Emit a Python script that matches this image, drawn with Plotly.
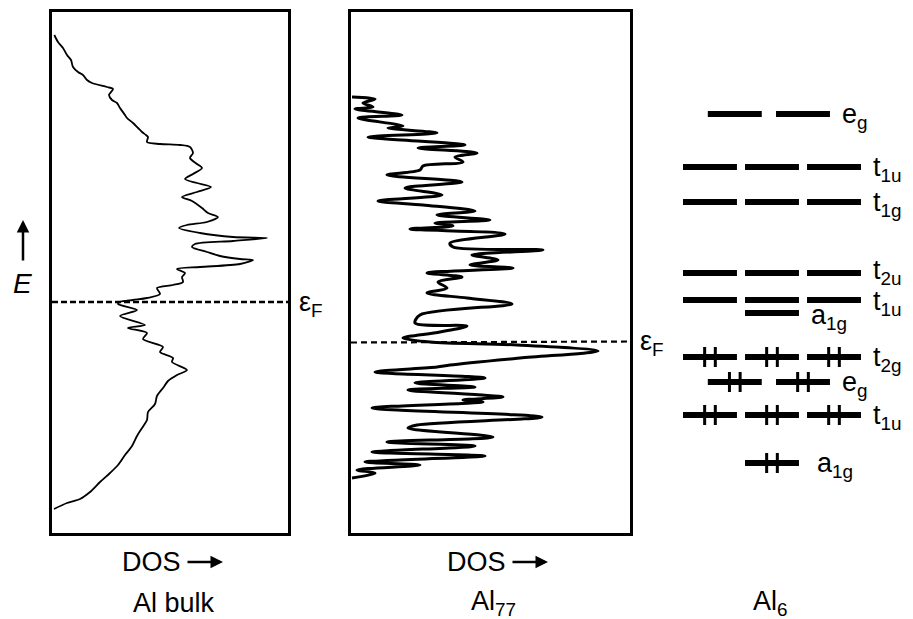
import plotly.graph_objects as go

W, H = 913, 619

# Al bulk density of states (arb. units) vs energy relative to E_F (arb. units)
bulk_dos = [0.23, 0.6, 1.1, 1.5, 1.9, 2.1, 2.6, 3.1, 3.5, 4.0, 5.5, 6.1, 5.7, 6.0, 6.5,
            6.8, 7.3, 7.5, 8.1, 8.6, 9.0, 9.4, 9.6, 9.5, 10.8, 12.8, 13.8, 14.1, 13.8,
            14.5, 15.0, 14.1, 13.3, 14.5, 15.9, 14.5, 13.0, 14.0, 15.0, 15.6, 16.6,
            15.5, 13.5, 12.7, 14.8, 18.1, 21.5, 18.1, 14.3, 14.0, 15.5, 16.8, 18.8,
            20.1, 18.8, 14.8, 12.5, 13.3, 13.0, 13.1, 12.1, 10.5, 10.8, 9.5, 8.1, 6.8,
            6.6, 8.5, 6.8, 9.3, 7.6, 9.5, 9.1, 11.1, 10.8, 12.1, 12.0, 13.5, 12.5,
            11.6, 11.1, 10.5, 10.3, 9.6, 9.5, 9.0, 8.5, 8.0, 7.3, 6.6, 5.8, 4.8, 3.8,
            2.8, 1.5, 0.2]
bulk_energy = [26.7, 26.0, 25.4, 24.7, 24.2, 23.5, 23.0, 22.7, 22.2, 21.9, 21.5, 21.3,
               20.7, 20.2, 19.9, 19.4, 18.7, 18.4, 17.9, 17.4, 17.0, 16.7, 16.5, 16.0,
               15.8, 15.7, 15.5, 14.9, 14.4, 13.8, 13.4, 12.8, 12.3, 11.9, 11.5, 11.0,
               10.5, 10.1, 9.4, 8.9, 8.5, 8.0, 7.7, 7.4, 6.9, 6.5, 6.4, 6.1, 5.8, 5.5,
               5.0, 4.6, 4.3, 4.2, 3.8, 3.5, 3.3, 2.9, 2.5, 2.0, 1.7, 1.4, 0.8, 0.4, 0.2,
               0.0, -0.2, -0.8, -1.4, -2.3, -2.6, -3.1, -3.7, -4.5, -5.0, -5.6, -6.0,
               -6.8, -7.3, -7.9, -8.6, -9.4, -10.2, -11.0, -11.8, -12.6, -13.4, -14.4,
               -15.3, -16.3, -17.1, -18.0, -19.0, -19.7, -20.1, -20.7]

# Al77 cluster density of states
al77_dos = [0.1, 2.4, 1.2, 2.2, 0.4, 5.1, 0.7, 5.2, 3.7, 8.6, 1.7, 11.4, 6.7, 12.6,
            10.4, 11.2, 7.2, 6.9, 3.6, 11.1, 5.4, 9.1, 2.7, 7.2, 12.4, 8.6, 13.9, 8.4,
            10.2, 5.9, 15.4, 9.9, 10.2, 19.2, 12.1, 14.7, 11.9, 16.2, 7.6, 11.1, 8.7,
            9.6, 7.6, 11.6, 16.1, 6.9, 6.4, 11.6, 8.9, 5.2, 7.9, 16.6, 24.7, 16.9, 9.9,
            8.6, 2.4, 13.4, 6.4, 12.4, 5.7, 15.2, 11.2, 13.2, 2.1, 19.1, 6.6, 5.7, 14.2,
            3.6, 12.4, 2.1, 13.4, 1.4, 6.9, 0.6, 2.4, 0.1]
al77_energy = [24.6, 24.4, 24.0, 23.6, 23.4, 22.8, 22.5, 21.7, 21.5, 21.0, 20.6, 19.8,
               19.5, 19.0, 18.6, 18.1, 17.7, 17.3, 16.8, 16.1, 15.5, 14.8, 14.2, 13.8,
               13.2, 12.8, 12.3, 12.0, 11.7, 11.4, 10.9, 10.0, 9.6, 9.3, 8.8, 8.3, 7.8,
               7.5, 7.0, 6.6, 6.1, 5.5, 5.0, 4.5, 3.9, 2.8, 2.0, 1.7, 1.1, 0.5, 0.1, -0.2,
               -0.8, -1.5, -2.2, -2.4, -2.9, -3.5, -4.0, -4.4, -4.7, -5.4, -5.7, -5.9,
               -6.5, -7.4, -8.2, -8.5, -9.4, -9.9, -10.3, -10.9, -11.3, -11.9, -12.2,
               -12.7, -13.0, -13.5]

# Al6 molecular-orbital levels
al6_labels = ["e<sub>g</sub>", "t<sub>1u</sub>", "t<sub>1g</sub>", "t<sub>2u</sub>",
              "t<sub>1u</sub>", "a<sub>1g</sub>", "t<sub>2g</sub>", "e<sub>g</sub>",
              "t<sub>1u</sub>", "a<sub>1g</sub>"]
al6_energy = [22.9, 17.6, 14.1, 7.0, 4.3, 3.0, -1.4, -3.9, -7.2, -12.0]
al6_degeneracy = [2, 3, 3, 3, 3, 1, 3, 2, 3, 1]
al6_occupied = [False, False, False, False, False, False, True, True, True, True]

panel_titles = ["Al bulk", "Al<sub>77</sub>", "Al<sub>6</sub>"]
fermi_label = "ε<sub>F</sub>"

FONT = "Liberation Sans, Arial, Helvetica, sans-serif"


def fx(p):
    return p / W


def fy(p):
    return 1 - p / H


fig = go.Figure()

# DOS curves
fig.add_trace(go.Scatter(x=bulk_dos, y=bulk_energy, xaxis="x", yaxis="y", mode="lines",
                         line=dict(color="black", width=1.8, shape="spline", smoothing=0.8)))
fig.add_trace(go.Scatter(x=al77_dos, y=al77_energy, xaxis="x2", yaxis="y2", mode="lines",
                         line=dict(color="black", width=3, shape="spline", smoothing=0.9)))

# Fermi levels
BULK_XR = [0, 23.6]
AL77_XR = [0, 27.9]
fig.add_trace(go.Scatter(x=BULK_XR, y=[0, 0], xaxis="x", yaxis="y", mode="lines",
                         line=dict(color="black", width=2.6, dash="6px,3px")))
fig.add_trace(go.Scatter(x=AL77_XR, y=[0.05, 0.15], xaxis="x2", yaxis="y2", mode="lines",
                         line=dict(color="black", width=2.2, dash="6px,4px")))

# Al6 levels: one bar per degenerate orbital, electron pairs marked on occupied ones
slots = {1: [0.0], 2: [-0.6, 0.5], 3: [-1.0, 0.0, 1.0]}
half_w = 0.435
pair_dx = 0.086
pair_dy = 1.0
bx, by, tx, ty = [], [], [], []
for e, g, occ in zip(al6_energy, al6_degeneracy, al6_occupied):
    for c in slots[g]:
        bx += [c - half_w, c + half_w, None]
        by += [e, e, None]
        if occ:
            for d in (-pair_dx, pair_dx):
                tx += [c + d, c + d, None]
                ty += [e - pair_dy, e + pair_dy, None]
fig.add_trace(go.Scatter(x=bx, y=by, xaxis="x3", yaxis="y3", mode="lines",
                         line=dict(color="black", width=6)))
fig.add_trace(go.Scatter(x=tx, y=ty, xaxis="x3", yaxis="y3", mode="lines",
                         line=dict(color="black", width=3)))

annotations = []
label_gap = 0.16
label_shift = {3: 1, 4: -3, 5: -4}
for i, (lab, e, g) in enumerate(zip(al6_labels, al6_energy, al6_degeneracy)):
    x_end = max(slots[g]) + half_w
    gap = 0.26 if i == 9 else label_gap
    annotations.append(dict(x=x_end + gap, y=e, xref="x3", yref="y3", text=lab,
                            showarrow=False, xanchor="left", yanchor="middle",
                            yshift=label_shift.get(i, -2),
                            font=dict(size=27, family=FONT, color="black")))

# Fermi-level labels
annotations.append(dict(x=fx(297), y=fy(304), xref="paper", yref="paper", text=fermi_label,
                        showarrow=False, xanchor="left", yanchor="middle",
                        font=dict(size=27, family=FONT, color="black")))
annotations.append(dict(x=fx(638), y=fy(343), xref="paper", yref="paper", text=fermi_label,
                        showarrow=False, xanchor="left", yanchor="middle",
                        font=dict(size=27, family=FONT, color="black")))

# Energy axis marker
annotations.append(dict(x=fx(23), y=fy(220), xref="paper", yref="paper", text="",
                        showarrow=True, ax=0, ay=42, arrowhead=2, arrowsize=1,
                        arrowwidth=2.5, arrowcolor="black"))
annotations.append(dict(x=fx(22), y=fy(283), xref="paper", yref="paper", text="<i>E</i>",
                        showarrow=False, xanchor="center", yanchor="middle",
                        font=dict(size=28, family=FONT, color="black")))

# DOS axis captions and panel titles
for dos_right, arrow_end in ((183, 223), (508, 548)):
    annotations.append(dict(x=fx(dos_right), y=fy(562), xref="paper", yref="paper", text="DOS",
                            showarrow=False, xanchor="right", yanchor="middle",
                            font=dict(size=27, family=FONT, color="black")))
    annotations.append(dict(x=fx(arrow_end), y=fy(562), xref="paper", yref="paper", text="",
                            showarrow=True, ax=-(arrow_end - dos_right - 3), ay=0,
                            arrowhead=2, arrowsize=1, arrowwidth=2.5, arrowcolor="black"))

for title, cx in zip(panel_titles, (174, 493, 770)):
    annotations.append(dict(x=fx(cx), y=fy(603), xref="paper", yref="paper", text=title,
                            showarrow=False, xanchor="center", yanchor="middle",
                            font=dict(size=27, family=FONT, color="black")))

box = dict(showgrid=False, zeroline=False, showticklabels=False, ticks="", showline=True,
           mirror=True, linecolor="black", linewidth=3, fixedrange=True)
hidden = dict(visible=False, fixedrange=True)
ydom = [fy(533), fy(12)]

fig.update_layout(
    width=W, height=H,
    margin=dict(l=0, r=0, t=0, b=0),
    paper_bgcolor="white", plot_bgcolor="white",
    showlegend=False,
    xaxis=dict(domain=[fx(52), fx(288)], range=BULK_XR, anchor="y", **box),
    yaxis=dict(domain=ydom, range=[-23.1, 29.0], anchor="x", **box),
    xaxis2=dict(domain=[fx(351), fx(630)], range=AL77_XR, anchor="y2", **box),
    yaxis2=dict(domain=ydom, range=[-19.0, 33.1], anchor="x2", **box),
    xaxis3=dict(domain=[fx(660), 1.0], range=[-1.806, 2.274], anchor="y3", **hidden),
    yaxis3=dict(domain=ydom, range=[-19.0, 33.1], anchor="x3", **hidden),
    annotations=annotations,
)

fig.write_html("out.html")
